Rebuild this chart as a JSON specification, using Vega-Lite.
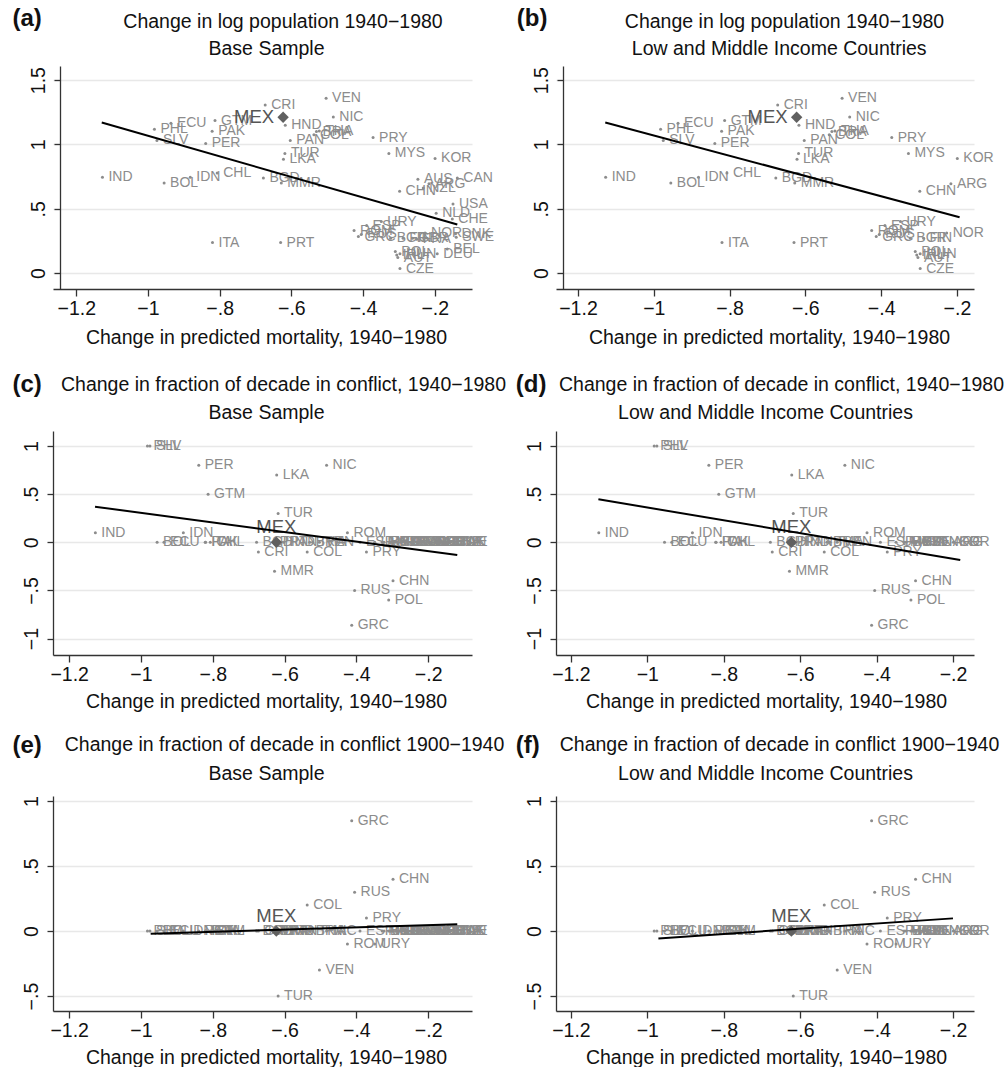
{
"$schema": "https://vega.github.io/schema/vega-lite/v6.json",
"background": "white",
"padding": {"left": 12, "top": 6, "right": 0, "bottom": 0},
"autosize": {"type": "pad"},
"config": {
  "font": "Liberation Sans",
  "view": {"stroke": null},
  "axis": {"domainColor": "#333333", "domainWidth": 1.3, "tickColor": "#333333", "tickWidth": 1.3, "labelFontSize": 19.5, "labelColor": "#111111", "titleFontSize": 19.5, "titleFontWeight": "normal", "titleColor": "#111111", "gridColor": "#e8e8e8", "gridWidth": 1.6, "labelFlush": false, "labelOverlap": false}
},
"datasets": {
  "countries": [
    {"c":"IND","m":-1.127,"p":0.744,"k1":0.1,"k2":null,"l":1},
    {"c":"BOL","m":-0.955,"p":0.70,"k1":0,"k2":0,"l":1},
    {"c":"PHL","m":-0.982,"p":1.119,"k1":1,"k2":0,"l":1},
    {"c":"SLV","m":-0.975,"p":1.031,"k1":1,"k2":0,"l":1},
    {"c":"ECU","m":-0.936,"p":1.165,"k1":0,"k2":0,"l":1},
    {"c":"GTM","m":-0.813,"p":1.186,"k1":0.5,"k2":0,"l":1},
    {"c":"PAK","m":-0.821,"p":1.103,"k1":0,"k2":0,"l":1},
    {"c":"PER","m":-0.839,"p":1.008,"k1":0.8,"k2":0,"l":1},
    {"c":"IDN","m":-0.882,"p":0.744,"k1":0.1,"k2":0,"l":1},
    {"c":"CHL","m":-0.807,"p":0.778,"k1":0,"k2":0,"l":1},
    {"c":"BGD","m":-0.678,"p":0.739,"k1":0,"k2":0,"l":1},
    {"c":"MMR","m":-0.628,"p":0.70,"k1":-0.3,"k2":0,"l":1},
    {"c":"CRI","m":-0.673,"p":1.307,"k1":-0.1,"k2":0,"l":1},
    {"c":"MEX","m":-0.623,"p":1.212,"k1":0,"k2":0,"l":1},
    {"c":"HND","m":-0.617,"p":1.15,"k1":0,"k2":0,"l":1},
    {"c":"PAN","m":-0.603,"p":1.031,"k1":0,"k2":0,"l":1},
    {"c":"TUR","m":-0.618,"p":0.93,"k1":0.3,"k2":-0.5,"l":1},
    {"c":"LKA","m":-0.622,"p":0.884,"k1":0.7,"k2":0,"l":1},
    {"c":"ITA","m":-0.82,"p":0.237,"k1":0,"k2":0,"l":1},
    {"c":"PRT","m":-0.63,"p":0.237,"k1":0,"k2":0,"l":1},
    {"c":"VEN","m":-0.503,"p":1.359,"k1":0,"k2":-0.3,"l":1},
    {"c":"NIC","m":-0.483,"p":1.214,"k1":0.8,"k2":0,"l":1},
    {"c":"COL","m":-0.537,"p":1.075,"k1":-0.1,"k2":0.2,"l":1},
    {"c":"BRA","m":-0.530,"p":1.10,"k1":0,"k2":0,"l":1},
    {"c":"THA","m":-0.522,"p":1.105,"k1":0,"k2":0,"l":1},
    {"c":"PRY","m":-0.372,"p":1.054,"k1":-0.1,"k2":0.1,"l":1},
    {"c":"MYS","m":-0.328,"p":0.93,"k1":0,"k2":0,"l":1},
    {"c":"KOR","m":-0.199,"p":0.891,"k1":0,"k2":0,"l":1},
    {"c":"CHN","m":-0.298,"p":0.636,"k1":-0.4,"k2":0.4,"l":1},
    {"c":"ARG","m":-0.216,"p":0.695,"k1":0,"k2":0,"l":1},
    {"c":"AUS","m":-0.247,"p":0.729,"k1":0,"k2":0,"l":0},
    {"c":"NZL","m":-0.232,"p":0.661,"k1":0,"k2":0,"l":0},
    {"c":"CAN","m":-0.137,"p":0.739,"k1":0,"k2":0,"l":0},
    {"c":"USA","m":-0.149,"p":0.537,"k1":0,"k2":0,"l":0},
    {"c":"NLD","m":-0.196,"p":0.465,"k1":0,"k2":0,"l":0},
    {"c":"CHE","m":-0.151,"p":0.421,"k1":0,"k2":0,"l":0},
    {"c":"DNK","m":-0.142,"p":0.305,"k1":0,"k2":0,"l":0},
    {"c":"SWE","m":-0.140,"p":0.279,"k1":0,"k2":0,"l":0},
    {"c":"NOR","m":-0.227,"p":0.312,"k1":0,"k2":0,"l":1},
    {"c":"ESP","m":-0.39,"p":0.369,"k1":0,"k2":0,"l":1},
    {"c":"URY","m":-0.349,"p":0.40,"k1":0,"k2":-0.1,"l":1},
    {"c":"ROM","m":-0.425,"p":0.33,"k1":0.1,"k2":-0.1,"l":1},
    {"c":"GRC","m":-0.413,"p":0.284,"k1":-0.86,"k2":0.85,"l":1},
    {"c":"RUS","m":-0.405,"p":0.30,"k1":-0.5,"k2":0.3,"l":1},
    {"c":"BGR","m":-0.323,"p":0.271,"k1":0,"k2":0,"l":1},
    {"c":"FIN","m":-0.288,"p":0.271,"k1":0,"k2":0,"l":1},
    {"c":"GBR","m":-0.262,"p":0.27,"k1":0,"k2":0,"l":0},
    {"c":"FRA","m":-0.25,"p":0.262,"k1":0,"k2":0,"l":0},
    {"c":"POL","m":-0.31,"p":0.167,"k1":-0.6,"k2":0,"l":1},
    {"c":"HUN","m":-0.297,"p":0.15,"k1":0,"k2":0,"l":1},
    {"c":"IRL","m":-0.306,"p":0.14,"k1":0,"k2":0,"l":1},
    {"c":"AUT","m":-0.303,"p":0.12,"k1":0,"k2":0,"l":1},
    {"c":"CZE","m":-0.297,"p":0.035,"k1":0,"k2":0,"l":1},
    {"c":"BEL","m":-0.165,"p":0.188,"k1":0,"k2":0,"l":0},
    {"c":"DEU","m":-0.193,"p":0.15,"k1":0,"k2":0,"l":0}
  ],
  "fits": [
    {"panel":"a","m":-1.129,"v":1.171},{"panel":"a","m":-0.137,"v":0.377},
    {"panel":"b","m":-1.128,"v":1.171},{"panel":"b","m":-0.193,"v":0.434},
    {"panel":"c","m":-1.128,"v":0.37},{"panel":"c","m":-0.119,"v":-0.132},
    {"panel":"d","m":-1.128,"v":0.447},{"panel":"d","m":-0.181,"v":-0.184},
    {"panel":"e","m":-0.973,"v":-0.02},{"panel":"e","m":-0.119,"v":0.052},
    {"panel":"f","m":-0.971,"v":-0.056},{"panel":"f","m":-0.2,"v":0.098}
  ]
},
"columns": 2,
"spacing": {"row": 141, "column": 84},
"bounds": "flush",
"align": "all",
"concat": [
{
 "width": 419, "height": 223,
 "layer": [
  {"data": {"name": "countries"}, "transform": [{"filter": "datum.c != 'MEX' && isValid(datum.p)"}],
   "mark": {"type": "point", "shape": "circle", "filled": true, "size": 9, "color": "#8c8c8c", "opacity": 1},
   "encoding": {
    "x": {"field": "m", "type": "quantitative", "scale": {"domain": [-1.265, -0.096], "nice": false, "zero": false},
      "axis": {"orient": "bottom", "values": [-1.2,-1,-0.8,-0.6,-0.4,-0.2], "labelExpr": "replace(format(datum.value, '.1~f'), '0.', '.')", "grid": false, "tickSize": 7, "labelPadding": 3, "title": "Change in predicted mortality, 1940−1980", "titleX": 213, "titleY": 54.5, "titleAlign": "center", "titleBaseline": "alphabetic", "titleAngle": 0}},
    "y": {"field": "p", "type": "quantitative", "scale": {"domain": [-0.124, 1.61], "nice": false, "zero": false},
      "axis": {"orient": "left", "offset": -7, "values": [0,0.5,1,1.5], "labelExpr": "replace(format(datum.value, '.1~f'), '0.', '.')", "labelAngle": -90, "labelAlign": "center", "labelBaseline": "alphabetic", "labelPadding": 10, "tickSize": 6, "grid": true, "title": "(a)", "titleX": -48, "titleY": -41, "titleAngle": 0, "titleAlign": "left", "titleBaseline": "alphabetic", "titleFontSize": 24, "titleFontWeight": "bold"}}
   }},
  {"data": {"name": "countries"}, "transform": [{"filter": "datum.c != 'MEX' && isValid(datum.p)"}],
   "mark": {"type": "text", "align": "left", "baseline": "middle", "dx": 6, "fontSize": 14, "color": "#8c8c8c"},
   "encoding": {"x": {"field": "m", "type": "quantitative", "axis": null}, "y": {"field": "p", "type": "quantitative", "axis": null}, "text": {"field": "c"}}},
  {"data": {"name": "countries"}, "transform": [{"filter": "datum.c == 'MEX'"}],
   "mark": {"type": "point", "shape": "diamond", "filled": true, "size": 130, "color": "#606060", "opacity": 1},
   "encoding": {"x": {"field": "m", "type": "quantitative", "axis": null}, "y": {"field": "p", "type": "quantitative", "axis": null}}},
  {"data": {"name": "countries"}, "transform": [{"filter": "datum.c == 'MEX'"}],
   "mark": {"type": "text", "align": "right", "baseline": "middle", "dx": -9, "fontSize": 18.5, "color": "#555555"},
   "encoding": {"x": {"field": "m", "type": "quantitative", "axis": null}, "y": {"field": "p", "type": "quantitative", "axis": null}, "text": {"field": "c"}}},
  {"data": {"name": "fits"}, "transform": [{"filter": "datum.panel == 'a'"}],
   "mark": {"type": "line", "color": "#000000", "strokeWidth": 2},
   "encoding": {
    "x": {"field": "m", "type": "quantitative", "scale": {"domain": [-1.265, -0.096], "nice": false, "zero": false}, "axis": {"orient": "top", "labels": false, "ticks": false, "domain": false, "grid": false, "title": "Base Sample", "titleX": 213, "titleY": -11.7, "titleAlign": "center", "titleBaseline": "alphabetic", "titleAngle": 0}},
    "y": {"field": "v", "type": "quantitative", "scale": {"domain": [-0.124, 1.61], "nice": false, "zero": false}, "axis": {"orient": "right", "labels": false, "ticks": false, "domain": false, "grid": false, "title": "Change in log population 1940−1980", "titleX": -189.5, "titleY": -38.7, "titleAlign": "center", "titleBaseline": "alphabetic", "titleAngle": 0}}
   }}
 ],
 "resolve": {"axis": {"x": "independent", "y": "independent"}}
},
{
 "width": 418, "height": 223,
 "layer": [
  {"data": {"name": "countries"}, "transform": [{"filter": "datum.c != 'MEX' && isValid(datum.p) && datum.l == 1"}],
   "mark": {"type": "point", "shape": "circle", "filled": true, "size": 9, "color": "#8c8c8c", "opacity": 1},
   "encoding": {
    "x": {"field": "m", "type": "quantitative", "scale": {"domain": [-1.258, -0.155], "nice": false, "zero": false},
      "axis": {"orient": "bottom", "values": [-1.2,-1,-0.8,-0.6,-0.4,-0.2], "labelExpr": "replace(format(datum.value, '.1~f'), '0.', '.')", "grid": false, "tickSize": 7, "labelPadding": 3, "title": "Change in predicted mortality, 1940−1980", "titleX": 213, "titleY": 54.5, "titleAlign": "center", "titleBaseline": "alphabetic", "titleAngle": 0}},
    "y": {"field": "p", "type": "quantitative", "scale": {"domain": [-0.124, 1.61], "nice": false, "zero": false},
      "axis": {"orient": "left", "offset": -7, "values": [0,0.5,1,1.5], "labelExpr": "replace(format(datum.value, '.1~f'), '0.', '.')", "labelAngle": -90, "labelAlign": "center", "labelBaseline": "alphabetic", "labelPadding": 10, "tickSize": 6, "grid": true, "title": "(b)", "titleX": -46.7, "titleY": -41, "titleAngle": 0, "titleAlign": "left", "titleBaseline": "alphabetic", "titleFontSize": 24, "titleFontWeight": "bold"}}
   }},
  {"data": {"name": "countries"}, "transform": [{"filter": "datum.c != 'MEX' && isValid(datum.p) && datum.l == 1"}],
   "mark": {"type": "text", "align": "left", "baseline": "middle", "dx": 6, "fontSize": 14, "color": "#8c8c8c"},
   "encoding": {"x": {"field": "m", "type": "quantitative", "axis": null}, "y": {"field": "p", "type": "quantitative", "axis": null}, "text": {"field": "c"}}},
  {"data": {"name": "countries"}, "transform": [{"filter": "datum.c == 'MEX'"}],
   "mark": {"type": "point", "shape": "diamond", "filled": true, "size": 130, "color": "#606060", "opacity": 1},
   "encoding": {"x": {"field": "m", "type": "quantitative", "axis": null}, "y": {"field": "p", "type": "quantitative", "axis": null}}},
  {"data": {"name": "countries"}, "transform": [{"filter": "datum.c == 'MEX'"}],
   "mark": {"type": "text", "align": "right", "baseline": "middle", "dx": -9, "fontSize": 18.5, "color": "#555555"},
   "encoding": {"x": {"field": "m", "type": "quantitative", "axis": null}, "y": {"field": "p", "type": "quantitative", "axis": null}, "text": {"field": "c"}}},
  {"data": {"name": "fits"}, "transform": [{"filter": "datum.panel == 'b'"}],
   "mark": {"type": "line", "color": "#000000", "strokeWidth": 2},
   "encoding": {
    "x": {"field": "m", "type": "quantitative", "scale": {"domain": [-1.258, -0.155], "nice": false, "zero": false}, "axis": {"orient": "top", "labels": false, "ticks": false, "domain": false, "grid": false, "title": "Low and Middle Income Countries", "titleX": 222.7, "titleY": -11.7, "titleAlign": "center", "titleBaseline": "alphabetic", "titleAngle": 0}},
    "y": {"field": "v", "type": "quantitative", "scale": {"domain": [-0.124, 1.61], "nice": false, "zero": false}, "axis": {"orient": "right", "labels": false, "ticks": false, "domain": false, "grid": false, "title": "Change in log population 1940−1980", "titleX": -190, "titleY": -38.7, "titleAlign": "center", "titleBaseline": "alphabetic", "titleAngle": 0}}
   }}
 ],
 "resolve": {"axis": {"x": "independent", "y": "independent"}}
},
{
 "width": 419, "height": 224,
 "layer": [
  {"data": {"name": "countries"}, "transform": [{"filter": "datum.c != 'MEX' && isValid(datum.k1)"}],
   "mark": {"type": "point", "shape": "circle", "filled": true, "size": 9, "color": "#8c8c8c", "opacity": 1},
   "encoding": {
    "x": {"field": "m", "type": "quantitative", "scale": {"domain": [-1.245, -0.078], "nice": false, "zero": false},
      "axis": {"orient": "bottom", "values": [-1.2,-1,-0.8,-0.6,-0.4,-0.2], "labelExpr": "replace(format(datum.value, '.1~f'), '0.', '.')", "grid": false, "tickSize": 7, "labelPadding": 3, "title": "Change in predicted mortality, 1940−1980", "titleX": 213, "titleY": 52.5, "titleAlign": "center", "titleBaseline": "alphabetic", "titleAngle": 0}},
    "y": {"field": "k1", "type": "quantitative", "scale": {"domain": [-1.17, 1.156], "nice": false, "zero": false},
      "axis": {"orient": "left", "values": [-1,-0.5,0,0.5,1], "labelExpr": "replace(format(datum.value, '.1~f'), '0.', '.')", "labelAngle": -90, "labelAlign": "center", "labelBaseline": "alphabetic", "labelPadding": 10, "tickSize": 6, "grid": true, "title": "(c)", "titleX": -41, "titleY": -39.3, "titleAngle": 0, "titleAlign": "left", "titleBaseline": "alphabetic", "titleFontSize": 24, "titleFontWeight": "bold"}}
   }},
  {"data": {"name": "countries"}, "transform": [{"filter": "datum.c != 'MEX' && isValid(datum.k1)"}],
   "mark": {"type": "text", "align": "left", "baseline": "middle", "dx": 6, "fontSize": 14, "color": "#8c8c8c"},
   "encoding": {"x": {"field": "m", "type": "quantitative", "axis": null}, "y": {"field": "k1", "type": "quantitative", "axis": null}, "text": {"field": "c"}}},
  {"data": {"name": "countries"}, "transform": [{"filter": "datum.c == 'MEX'"}],
   "mark": {"type": "point", "shape": "diamond", "filled": true, "size": 130, "color": "#606060", "opacity": 1},
   "encoding": {"x": {"field": "m", "type": "quantitative", "axis": null}, "y": {"field": "k1", "type": "quantitative", "axis": null}}},
  {"data": {"name": "countries"}, "transform": [{"filter": "datum.c == 'MEX'"}],
   "mark": {"type": "text", "align": "center", "baseline": "alphabetic", "dy": -9.5, "fontSize": 18.5, "color": "#555555"},
   "encoding": {"x": {"field": "m", "type": "quantitative", "axis": null}, "y": {"field": "k1", "type": "quantitative", "axis": null}, "text": {"field": "c"}}},
  {"data": {"name": "fits"}, "transform": [{"filter": "datum.panel == 'c'"}],
   "mark": {"type": "line", "color": "#000000", "strokeWidth": 2},
   "encoding": {
    "x": {"field": "m", "type": "quantitative", "scale": {"domain": [-1.245, -0.078], "nice": false, "zero": false}, "axis": {"orient": "top", "labels": false, "ticks": false, "domain": false, "grid": false, "title": "Base Sample", "titleX": 213, "titleY": -12.7, "titleAlign": "center", "titleBaseline": "alphabetic", "titleAngle": 0}},
    "y": {"field": "v", "type": "quantitative", "scale": {"domain": [-1.17, 1.156], "nice": false, "zero": false}, "axis": {"orient": "right", "labels": false, "ticks": false, "domain": false, "grid": false, "title": "Change in fraction of decade in conflict, 1940−1980", "titleX": -189, "titleY": -40.3, "titleAlign": "center", "titleBaseline": "alphabetic", "titleAngle": 0}}
   }}
 ],
 "resolve": {"axis": {"x": "independent", "y": "independent"}}
},
{
 "width": 418, "height": 224,
 "layer": [
  {"data": {"name": "countries"}, "transform": [{"filter": "datum.c != 'MEX' && isValid(datum.k1) && datum.l == 1"}],
   "mark": {"type": "point", "shape": "circle", "filled": true, "size": 9, "color": "#8c8c8c", "opacity": 1},
   "encoding": {
    "x": {"field": "m", "type": "quantitative", "scale": {"domain": [-1.239, -0.145], "nice": false, "zero": false},
      "axis": {"orient": "bottom", "values": [-1.2,-1,-0.8,-0.6,-0.4,-0.2], "labelExpr": "replace(format(datum.value, '.1~f'), '0.', '.')", "grid": false, "tickSize": 7, "labelPadding": 3, "title": "Change in predicted mortality, 1940−1980", "titleX": 210, "titleY": 52.5, "titleAlign": "center", "titleBaseline": "alphabetic", "titleAngle": 0}},
    "y": {"field": "k1", "type": "quantitative", "scale": {"domain": [-1.17, 1.156], "nice": false, "zero": false},
      "axis": {"orient": "left", "values": [-1,-0.5,0,0.5,1], "labelExpr": "replace(format(datum.value, '.1~f'), '0.', '.')", "labelAngle": -90, "labelAlign": "center", "labelBaseline": "alphabetic", "labelPadding": 10, "tickSize": 6, "grid": true, "title": "(d)", "titleX": -40.7, "titleY": -39.3, "titleAngle": 0, "titleAlign": "left", "titleBaseline": "alphabetic", "titleFontSize": 24, "titleFontWeight": "bold"}}
   }},
  {"data": {"name": "countries"}, "transform": [{"filter": "datum.c != 'MEX' && isValid(datum.k1) && datum.l == 1"}],
   "mark": {"type": "text", "align": "left", "baseline": "middle", "dx": 6, "fontSize": 14, "color": "#8c8c8c"},
   "encoding": {"x": {"field": "m", "type": "quantitative", "axis": null}, "y": {"field": "k1", "type": "quantitative", "axis": null}, "text": {"field": "c"}}},
  {"data": {"name": "countries"}, "transform": [{"filter": "datum.c == 'MEX'"}],
   "mark": {"type": "point", "shape": "diamond", "filled": true, "size": 130, "color": "#606060", "opacity": 1},
   "encoding": {"x": {"field": "m", "type": "quantitative", "axis": null}, "y": {"field": "k1", "type": "quantitative", "axis": null}}},
  {"data": {"name": "countries"}, "transform": [{"filter": "datum.c == 'MEX'"}],
   "mark": {"type": "text", "align": "center", "baseline": "alphabetic", "dy": -9.5, "fontSize": 18.5, "color": "#555555"},
   "encoding": {"x": {"field": "m", "type": "quantitative", "axis": null}, "y": {"field": "k1", "type": "quantitative", "axis": null}, "text": {"field": "c"}}},
  {"data": {"name": "fits"}, "transform": [{"filter": "datum.panel == 'd'"}],
   "mark": {"type": "line", "color": "#000000", "strokeWidth": 2},
   "encoding": {
    "x": {"field": "m", "type": "quantitative", "scale": {"domain": [-1.239, -0.145], "nice": false, "zero": false}, "axis": {"orient": "top", "labels": false, "ticks": false, "domain": false, "grid": false, "title": "Low and Middle Income Countries", "titleX": 209, "titleY": -12.7, "titleAlign": "center", "titleBaseline": "alphabetic", "titleAngle": 0}},
    "y": {"field": "v", "type": "quantitative", "scale": {"domain": [-1.17, 1.156], "nice": false, "zero": false}, "axis": {"orient": "right", "labels": false, "ticks": false, "domain": false, "grid": false, "title": "Change in fraction of decade in conflict, 1940−1980", "titleX": -193, "titleY": -40.3, "titleAlign": "center", "titleBaseline": "alphabetic", "titleAngle": 0}}
   }}
 ],
 "resolve": {"axis": {"x": "independent", "y": "independent"}}
},
{
 "width": 419, "height": 215,
 "layer": [
  {"data": {"name": "countries"}, "transform": [{"filter": "datum.c != 'MEX' && isValid(datum.k2)"}],
   "mark": {"type": "point", "shape": "circle", "filled": true, "size": 9, "color": "#8c8c8c", "opacity": 1},
   "encoding": {
    "x": {"field": "m", "type": "quantitative", "scale": {"domain": [-1.245, -0.078], "nice": false, "zero": false},
      "axis": {"orient": "bottom", "values": [-1.2,-1,-0.8,-0.6,-0.4,-0.2], "labelExpr": "replace(format(datum.value, '.1~f'), '0.', '.')", "grid": false, "tickSize": 7, "labelPadding": 3, "title": "Change in predicted mortality, 1940−1980", "titleX": 213, "titleY": 52, "titleAlign": "center", "titleBaseline": "alphabetic", "titleAngle": 0}},
    "y": {"field": "k2", "type": "quantitative", "scale": {"domain": [-0.615, 1.04], "nice": false, "zero": false},
      "axis": {"orient": "left", "values": [-0.5,0,0.5,1], "labelExpr": "replace(format(datum.value, '.1~f'), '0.', '.')", "labelAngle": -90, "labelAlign": "center", "labelBaseline": "alphabetic", "labelPadding": 10, "tickSize": 6, "grid": true, "title": "(e)", "titleX": -41, "titleY": -43.3, "titleAngle": 0, "titleAlign": "left", "titleBaseline": "alphabetic", "titleFontSize": 24, "titleFontWeight": "bold"}}
   }},
  {"data": {"name": "countries"}, "transform": [{"filter": "datum.c != 'MEX' && isValid(datum.k2)"}],
   "mark": {"type": "text", "align": "left", "baseline": "middle", "dx": 6, "fontSize": 14, "color": "#8c8c8c"},
   "encoding": {"x": {"field": "m", "type": "quantitative", "axis": null}, "y": {"field": "k2", "type": "quantitative", "axis": null}, "text": {"field": "c"}}},
  {"data": {"name": "countries"}, "transform": [{"filter": "datum.c == 'MEX'"}],
   "mark": {"type": "point", "shape": "diamond", "filled": true, "size": 130, "color": "#606060", "opacity": 1},
   "encoding": {"x": {"field": "m", "type": "quantitative", "axis": null}, "y": {"field": "k2", "type": "quantitative", "axis": null}}},
  {"data": {"name": "countries"}, "transform": [{"filter": "datum.c == 'MEX'"}],
   "mark": {"type": "text", "align": "center", "baseline": "alphabetic", "dy": -9.5, "fontSize": 18.5, "color": "#555555"},
   "encoding": {"x": {"field": "m", "type": "quantitative", "axis": null}, "y": {"field": "k2", "type": "quantitative", "axis": null}, "text": {"field": "c"}}},
  {"data": {"name": "fits"}, "transform": [{"filter": "datum.panel == 'e'"}],
   "mark": {"type": "line", "color": "#000000", "strokeWidth": 2},
   "encoding": {
    "x": {"field": "m", "type": "quantitative", "scale": {"domain": [-1.245, -0.078], "nice": false, "zero": false}, "axis": {"orient": "top", "labels": false, "ticks": false, "domain": false, "grid": false, "title": "Base Sample", "titleX": 213, "titleY": -17, "titleAlign": "center", "titleBaseline": "alphabetic", "titleAngle": 0}},
    "y": {"field": "v", "type": "quantitative", "scale": {"domain": [-0.615, 1.04], "nice": false, "zero": false}, "axis": {"orient": "right", "labels": false, "ticks": false, "domain": false, "grid": false, "title": "Change in fraction of decade in conflict 1900−1940", "titleX": -188, "titleY": -45.3, "titleAlign": "center", "titleBaseline": "alphabetic", "titleAngle": 0}}
   }}
 ],
 "resolve": {"axis": {"x": "independent", "y": "independent"}}
},
{
 "width": 418, "height": 215,
 "layer": [
  {"data": {"name": "countries"}, "transform": [{"filter": "datum.c != 'MEX' && isValid(datum.k2) && datum.l == 1"}],
   "mark": {"type": "point", "shape": "circle", "filled": true, "size": 9, "color": "#8c8c8c", "opacity": 1},
   "encoding": {
    "x": {"field": "m", "type": "quantitative", "scale": {"domain": [-1.239, -0.145], "nice": false, "zero": false},
      "axis": {"orient": "bottom", "values": [-1.2,-1,-0.8,-0.6,-0.4,-0.2], "labelExpr": "replace(format(datum.value, '.1~f'), '0.', '.')", "grid": false, "tickSize": 7, "labelPadding": 3, "title": "Change in predicted mortality, 1940−1980", "titleX": 210, "titleY": 52, "titleAlign": "center", "titleBaseline": "alphabetic", "titleAngle": 0}},
    "y": {"field": "k2", "type": "quantitative", "scale": {"domain": [-0.615, 1.04], "nice": false, "zero": false},
      "axis": {"orient": "left", "values": [-0.5,0,0.5,1], "labelExpr": "replace(format(datum.value, '.1~f'), '0.', '.')", "labelAngle": -90, "labelAlign": "center", "labelBaseline": "alphabetic", "labelPadding": 10, "tickSize": 6, "grid": true, "title": "(f)", "titleX": -40.7, "titleY": -43.3, "titleAngle": 0, "titleAlign": "left", "titleBaseline": "alphabetic", "titleFontSize": 24, "titleFontWeight": "bold"}}
   }},
  {"data": {"name": "countries"}, "transform": [{"filter": "datum.c != 'MEX' && isValid(datum.k2) && datum.l == 1"}],
   "mark": {"type": "text", "align": "left", "baseline": "middle", "dx": 6, "fontSize": 14, "color": "#8c8c8c"},
   "encoding": {"x": {"field": "m", "type": "quantitative", "axis": null}, "y": {"field": "k2", "type": "quantitative", "axis": null}, "text": {"field": "c"}}},
  {"data": {"name": "countries"}, "transform": [{"filter": "datum.c == 'MEX'"}],
   "mark": {"type": "point", "shape": "diamond", "filled": true, "size": 130, "color": "#606060", "opacity": 1},
   "encoding": {"x": {"field": "m", "type": "quantitative", "axis": null}, "y": {"field": "k2", "type": "quantitative", "axis": null}}},
  {"data": {"name": "countries"}, "transform": [{"filter": "datum.c == 'MEX'"}],
   "mark": {"type": "text", "align": "center", "baseline": "alphabetic", "dy": -9.5, "fontSize": 18.5, "color": "#555555"},
   "encoding": {"x": {"field": "m", "type": "quantitative", "axis": null}, "y": {"field": "k2", "type": "quantitative", "axis": null}, "text": {"field": "c"}}},
  {"data": {"name": "fits"}, "transform": [{"filter": "datum.panel == 'f'"}],
   "mark": {"type": "line", "color": "#000000", "strokeWidth": 2},
   "encoding": {
    "x": {"field": "m", "type": "quantitative", "scale": {"domain": [-1.239, -0.145], "nice": false, "zero": false}, "axis": {"orient": "top", "labels": false, "ticks": false, "domain": false, "grid": false, "title": "Low and Middle Income Countries", "titleX": 209, "titleY": -17, "titleAlign": "center", "titleBaseline": "alphabetic", "titleAngle": 0}},
    "y": {"field": "v", "type": "quantitative", "scale": {"domain": [-0.615, 1.04], "nice": false, "zero": false}, "axis": {"orient": "right", "labels": false, "ticks": false, "domain": false, "grid": false, "title": "Change in fraction of decade in conflict 1900−1940", "titleX": -195, "titleY": -45.3, "titleAlign": "center", "titleBaseline": "alphabetic", "titleAngle": 0}}
   }}
 ],
 "resolve": {"axis": {"x": "independent", "y": "independent"}}
}
]
}
